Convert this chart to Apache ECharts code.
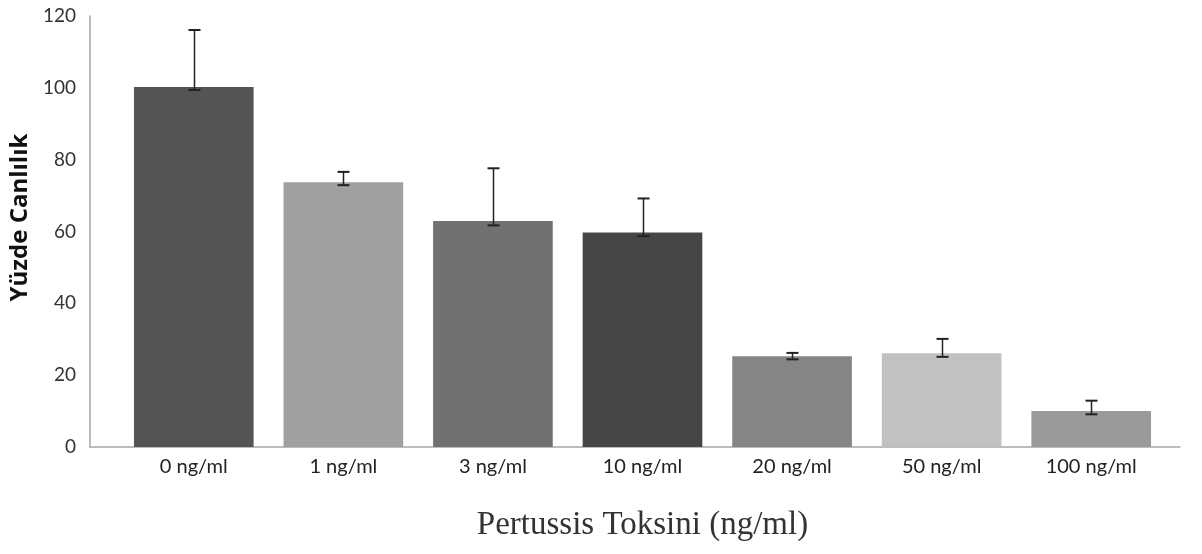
<!DOCTYPE html>
<html><head><meta charset="utf-8">
<script src="https://cdn.jsdelivr.net/npm/echarts@6/dist/echarts.min.js"></script>
<style>html,body{margin:0;padding:0;background:#fff}#c{width:1202px;height:554px}</style>
</head><body><div id="c"></div>
<script>
const categories = ['0 ng/ml','1 ng/ml','3 ng/ml','10 ng/ml','20 ng/ml','50 ng/ml','100 ng/ml'];
const values = [100.2, 73.7, 62.9, 59.7, 25.3, 26.1, 10.0];
const errLow = [99.4, 72.9, 61.7, 58.7, 24.4, 25.1, 9.1];
const errHigh = [116.1, 76.6, 77.6, 69.2, 26.2, 30.1, 12.9];
const barColors = ['#545454','#a0a0a0','#717171','#464646','#858585','#c1c1c1','#9a9a9a'];
const yTicks = [0,20,40,60,80,100,120];

const chart = echarts.init(document.getElementById('c'));
const TOP = 16, BOTTOM = 107;
chart.setOption({
  animation: false,
  grid: [
    {left: 90, right: 22, top: TOP, bottom: BOTTOM},
    {left: 119, right: 36, top: TOP, bottom: BOTTOM}
  ],
  xAxis: [
    {gridIndex: 0, type: 'value', min: 0, max: 1, axisLine: {show: true, lineStyle: {color: '#a6a6a6', width: 1.5}},
     axisTick: {show: false}, axisLabel: {show: false}, splitLine: {show: false}},
    {gridIndex: 1, type: 'category', data: categories, axisLine: {show: false}, axisTick: {show: false},
     axisLabel: {color: '#222', fontFamily: 'Lato', fontSize: 20, margin: 10},
     name: 'Pertussis Toksini (ng/ml)', nameLocation: 'middle', nameGap: 62,
     nameTextStyle: {fontFamily: 'Liberation Serif', fontSize: 33, color: '#333'}}
  ],
  yAxis: [
    {gridIndex: 0, type: 'value', min: 0, max: 120, interval: 20,
     axisLine: {show: true, lineStyle: {color: '#a6a6a6', width: 1.5}}, axisTick: {show: false},
     splitLine: {show: false},
     axisLabel: {color: '#333', fontFamily: 'Lato', fontSize: 19, margin: 14,
       formatter: v => yTicks.includes(v) ? String(v) : ''},
     name: 'Yüzde Canlılık', nameLocation: 'middle', nameGap: 58,
     nameTextStyle: {fontFamily: 'Open Sans', fontWeight: 'bold', fontSize: 24, color: '#111', padding: [0, 0, 0, 28]}},
    {gridIndex: 1, type: 'value', min: 0, max: 120, show: false}
  ],
  series: [
    {type: 'bar', xAxisIndex: 1, yAxisIndex: 1, barCategoryGap: '20%',
     data: values.map((v, i) => ({value: v, itemStyle: {color: barColors[i]}}))},
    {type: 'custom', xAxisIndex: 1, yAxisIndex: 1, z: 5,
     data: categories.map((c, i) => [i, errLow[i], errHigh[i]]),
     renderItem: (params, api) => {
       const lo = api.coord([api.value(0), api.value(1)]);
       const hi = api.coord([api.value(0), api.value(2)]);
       const x = Math.round(lo[0]) + 0.5, hw = 6;
       const st = {stroke: '#222', lineWidth: 1.5};
       return {type: 'group', children: [
         {type: 'line', shape: {x1: x, y1: lo[1], x2: x, y2: hi[1]}, style: st},
         {type: 'line', shape: {x1: x - hw, y1: hi[1], x2: x + hw, y2: hi[1]}, style: {stroke: '#222', lineWidth: 2}},
         {type: 'line', shape: {x1: x - hw, y1: lo[1], x2: x + hw, y2: lo[1]}, style: {stroke: '#222', lineWidth: 2}}
       ]};
     }}
  ]
});
</script></body></html>
